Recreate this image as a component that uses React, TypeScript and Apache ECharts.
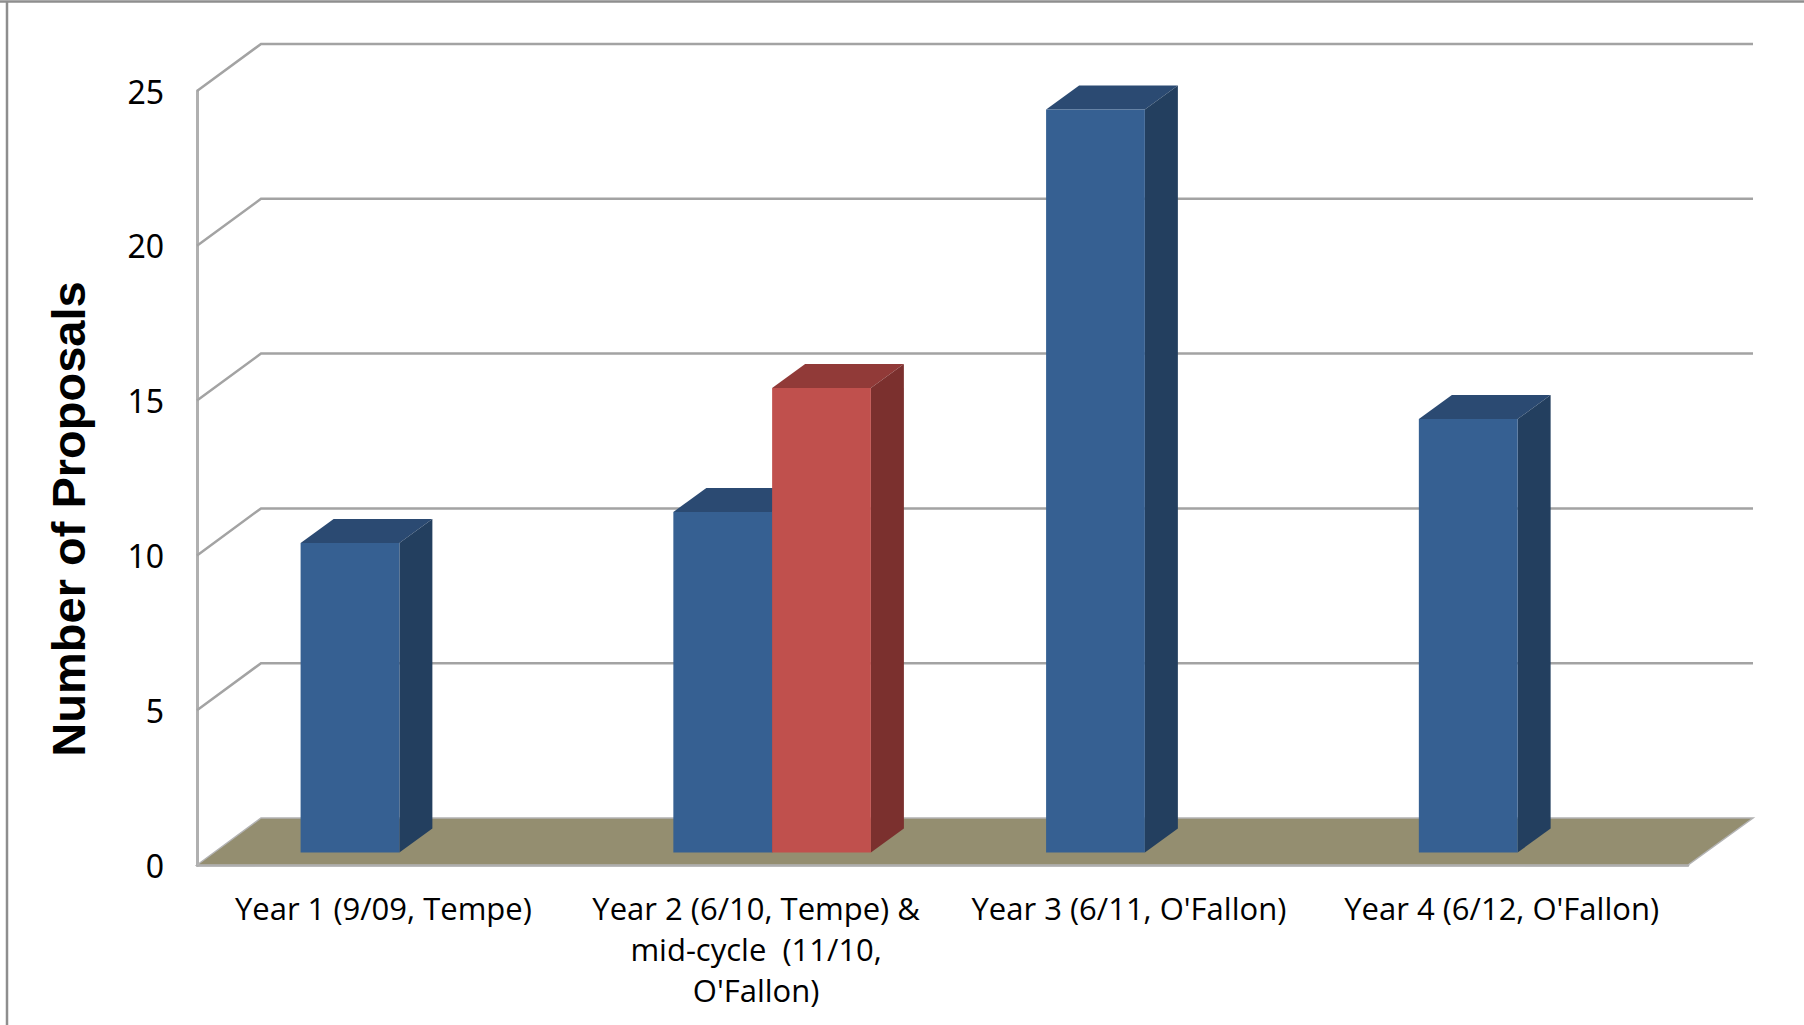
import React, { useEffect, useRef } from "react";
import * as echarts from "echarts";

const categories = [
  "Year 1 (9/09, Tempe)",
  "Year 2 (6/10, Tempe) &\nmid-cycle  (11/10,\nO'Fallon)",
  "Year 3 (6/11, O'Fallon)",
  "Year 4 (6/12, O'Fallon)",
];
const firstSeries = [10, 11, 24, 14];
const secondSeries = [null, 15, null, null];
const tickValues = [5, 10, 15, 20, 25];

const WALL_DX = 64;
const WALL_DY = 47;
const BAR_PLANE_DX = 16;
const BAR_PLANE_DY = 12.5;
const BAR_DX = 33;
const BAR_DY = 24;
const BAR_RATIO = 0.265;
const GRID_COLOR = "#a3a3a3";

const wallItem = (params: any, api: any) => {
  const cs = params.coordSys;
  const y = api.coord([0, api.value(1)])[1];
  return {
    type: "polyline",
    silent: true,
    shape: {
      points: [
        [cs.x, y],
        [cs.x + WALL_DX, y - WALL_DY],
        [cs.x + cs.width + WALL_DX + 1, y - WALL_DY],
      ],
    },
    style: { fill: "none", stroke: GRID_COLOR, lineWidth: 2.5 },
  };
};

const floorItem = (params: any, api: any) => {
  const cs = params.coordSys;
  const y = api.coord([0, api.value(1)])[1];
  return {
    type: "polygon",
    silent: true,
    shape: {
      points: [
        [cs.x, y],
        [cs.x + WALL_DX, y - WALL_DY],
        [cs.x + cs.width + WALL_DX + 1, y - WALL_DY],
        [cs.x + cs.width, y],
      ],
    },
    style: { fill: "#948e70", stroke: "#b3b3b3", lineWidth: 1.5 },
  };
};

const barItem = (side: number, face: string, top: string, flank: string) => (_params: any, api: any) => {
  const v = api.value(1);
  if (v == null || Number.isNaN(v)) return null;
  const base = api.coord([api.value(0), 0]);
  const high = api.coord([api.value(0), v]);
  const w = api.size([1, 0])[0] * BAR_RATIO;
  const x0 = base[0] + BAR_PLANE_DX + (side === 0 ? -w : 0);
  const x1 = x0 + w;
  const y0 = base[1] - BAR_PLANE_DY;
  const y1 = high[1] - BAR_PLANE_DY;
  return {
    type: "group",
    children: [
      {
        type: "polygon",
        shape: { points: [[x0, y1], [x0 + BAR_DX, y1 - BAR_DY], [x1 + BAR_DX, y1 - BAR_DY], [x1, y1]] },
        style: { fill: top },
      },
      {
        type: "polygon",
        shape: { points: [[x1, y0], [x1, y1], [x1 + BAR_DX, y1 - BAR_DY], [x1 + BAR_DX, y0 - BAR_DY]] },
        style: { fill: flank },
      },
      {
        type: "rect",
        shape: { x: x0, y: y1, width: w, height: y0 - y1 },
        style: { fill: face },
      },
    ],
  };
};

export default function App() {
  const ref = useRef<HTMLDivElement>(null);
  useEffect(() => {
    if (!ref.current) return;
    const chart = echarts.init(ref.current, undefined, { renderer: "svg" });
    chart.setOption({
      animation: false,
      backgroundColor: "#ffffff",
      tooltip: { show: false },
      legend: { show: false },
      grid: { left: 197, top: 91, width: 1491, height: 774, containLabel: false },
      graphic: [
        { type: "line", shape: { x1: 0, y1: 1.5, x2: 1804, y2: 1.5 }, style: { stroke: "#8e8e8e", lineWidth: 2.5 } },
        { type: "line", shape: { x1: 7, y1: 1, x2: 7, y2: 1025 }, style: { stroke: "#8e8e8e", lineWidth: 2.5 } },
      ],
      xAxis: {
        type: "category",
        data: categories,
        axisLine: { show: true, lineStyle: { color: GRID_COLOR, width: 2.5 } },
        axisTick: { show: false },
        axisLabel: {
          interval: 0,
          margin: 22,
          color: "#000000",
          fontFamily: "Open Sans",
          fontSize: 31,
          lineHeight: 41,
          align: "center",
        },
      },
      yAxis: {
        type: "value",
        min: 0,
        max: 25,
        interval: 5,
        name: "Number of Proposals",
        nameLocation: "middle",
        nameGap: 105,
        nameTextStyle: {
          fontFamily: "Liberation Sans",
          fontWeight: "bold",
          fontSize: 47,
          color: "#000000",
          padding: [0, 82, 0, 0],
        },
        axisLine: { show: true, lineStyle: { color: "#b0b0b0", width: 3 } },
        axisTick: { show: false },
        splitLine: { show: false },
        axisLabel: {
          margin: 33,
          color: "#000000",
          fontFamily: "Noto Sans",
          fontSize: 32,
          padding: [4, 0, 0, 0],
        },
      },
      series: [
        {
          type: "custom",
          name: "Gridlines",
          renderItem: wallItem,
          encode: { x: 0, y: 1 },
          data: tickValues.map((v) => [0, v]),
          silent: true,
          z: 1,
        },
        {
          type: "custom",
          name: "Floor",
          renderItem: floorItem,
          encode: { x: 0, y: 1 },
          data: [[0, 0]],
          silent: true,
          z: 2,
        },
        {
          type: "custom",
          name: "Series 1",
          renderItem: barItem(0, "#366092", "#2b4a72", "#233f5f"),
          encode: { x: 0, y: 1 },
          data: categories.map((_, i) => [i, firstSeries[i]]),
          z: 3,
        },
        {
          type: "custom",
          name: "Series 2",
          renderItem: barItem(1, "#c0504d", "#913a38", "#7b302e"),
          encode: { x: 0, y: 1 },
          data: categories.map((_, i) => [i, secondSeries[i]]),
          z: 4,
        },
      ],
    });
    return () => chart.dispose();
  }, []);
  return (
    <div
      ref={ref}
      style={{ position: "absolute", left: 0, top: 0, width: 1804, height: 1025, overflow: "hidden" }}
    />
  );
}
